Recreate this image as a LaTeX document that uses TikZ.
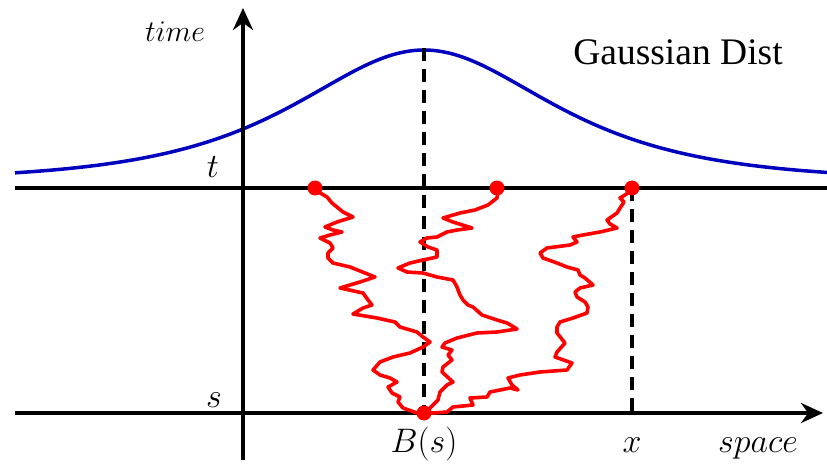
\RequirePackage{fix-cm}
\documentclass[tikz,border=0pt]{standalone}
\usepackage{fontspec}
\newfontfamily\serifdist{Liberation Serif}
\usetikzlibrary{arrows.meta}
\begin{document}
\begin{tikzpicture}[x=1pt,y=-1pt,
  axisline/.style={line width=4pt,black},
  axisarrow/.style={axisline,-{Stealth[length=22pt,width=20pt]}},
  guide/.style={line width=3.8pt,black,dash pattern=on 13pt off 8pt},
  walk/.style={line width=3.6pt,red,line join=round,line cap=round},
  gauss/.style={line width=3.5pt,blue!75!black},
  dotmark/.style={circle,fill=red,inner sep=0pt,minimum size=15pt},
  lbl/.style={inner sep=0pt,anchor=base,font=\fontsize{34}{40}\selectfont}]
\useasboundingbox (0,0) rectangle (827,465);
% coordinates
\coordinate (vbot) at (243,460);
\coordinate (vtop) at (243,8);
\coordinate (tl) at (15,188);
\coordinate (tr) at (827,188);
\coordinate (sl) at (15,413);
\coordinate (sr) at (823,413);
\coordinate (peak) at (424,48);
\coordinate (bfoot) at (424,413);
\coordinate (xtop) at (632,188);
\coordinate (xbot) at (632,413);
% gaussian
\draw[gauss] plot[domain=15:827,samples=160,smooth] (\x,{180-130/cosh((\x-424)/114)});
% axes
\draw[axisline] (tl) -- (tr);
\draw[axisarrow] (sl) -- (sr);
\draw[axisarrow] (vbot) -- (vtop);
% dashed guides
\draw[guide] (peak) -- (bfoot);
\draw[guide] (xtop) -- (xbot);
% random walks
\draw[walk] (315,190) -- (327,197) -- (332,203) -- (343,212) -- (353,217) -- (337,222) -- (325,227) -- (333,230) -- (342,232) -- (330,235) -- (320,238) -- (330,243) -- (333,248) -- (328,253) -- (328,258) -- (333,263) -- (350,267) -- (365,273) -- (375,277) -- (360,282) -- (340,288) -- (363,293) -- (368,300) -- (372,305) -- (363,308) -- (353,314) -- (377,318) -- (395,322) -- (400,327) -- (417,332) -- (423,337) -- (430,342) -- (423,347) -- (410,353) -- (393,357) -- (380,362) -- (373,370) -- (380,375) -- (390,378) -- (397,382) -- (388,387) -- (392,393) -- (400,397) -- (398,402) -- (403,408) -- (417,413) -- (424,413);
\draw[walk] (498,190) -- (497,198) -- (488,205) -- (475,210) -- (460,213) -- (443,218) -- (453,222) -- (472,228) -- (457,230) -- (447,232) -- (437,237) -- (427,238) -- (420,242) -- (428,247) -- (437,250) -- (437,257) -- (423,260) -- (410,263) -- (398,268) -- (407,272) -- (423,273) -- (437,277) -- (453,280) -- (457,287) -- (460,295) -- (463,300) -- (468,305) -- (473,307) -- (482,315) -- (497,320) -- (507,323) -- (517,329) -- (497,332) -- (477,333) -- (457,338) -- (445,343) -- (442,347) -- (452,350) -- (448,355) -- (452,360) -- (443,367) -- (442,372) -- (453,382) -- (447,385) -- (440,392) -- (438,400) -- (433,405) -- (428,410) -- (424,413);
\draw[walk] (632,190) -- (625,195) -- (620,198) -- (624,202) -- (620,208) -- (617,213) -- (607,220) -- (610,224) -- (617,228) -- (600,232) -- (583,235) -- (573,237) -- (577,242) -- (570,245) -- (547,248) -- (540,253) -- (543,258) -- (557,263) -- (567,267) -- (578,270) -- (580,275) -- (585,278) -- (593,285) -- (580,288) -- (575,292) -- (577,297) -- (585,302) -- (588,307) -- (587,313) -- (573,318) -- (560,322) -- (557,327) -- (557,333) -- (565,343) -- (557,352) -- (555,357) -- (572,363) -- (567,370) -- (540,372) -- (520,375) -- (508,378) -- (512,385) -- (518,390) -- (510,388) -- (490,392) -- (487,397) -- (470,398) -- (473,405) -- (453,407) -- (447,412) -- (433,413) -- (424,413);
% dots
\node[dotmark] (d1) at (315,188) {};
\node[dotmark] (d2) at (497,188) {};
\node[dotmark] (d3) at (632,188) {};
\node[dotmark] (d4) at (bfoot) {};
% labels
\node[lbl,font=\fontsize{30}{36}\selectfont] (time) at (175,42) {$time$};
\node[lbl,font=\fontsize{37.5}{42}\selectfont\serifdist] (gd) at (678,65) {Gaussian Dist};
\node[lbl] (tlab) at (213,178) {$t$};
\node[lbl] (slab) at (214,407) {$s$};
\node[lbl] (blab) at (424,452) {$B(s)$};
\node[lbl] (xlab) at (632,452) {$x$};
\node[lbl] (space) at (758,452) {$space$};
\end{tikzpicture}
\end{document}
